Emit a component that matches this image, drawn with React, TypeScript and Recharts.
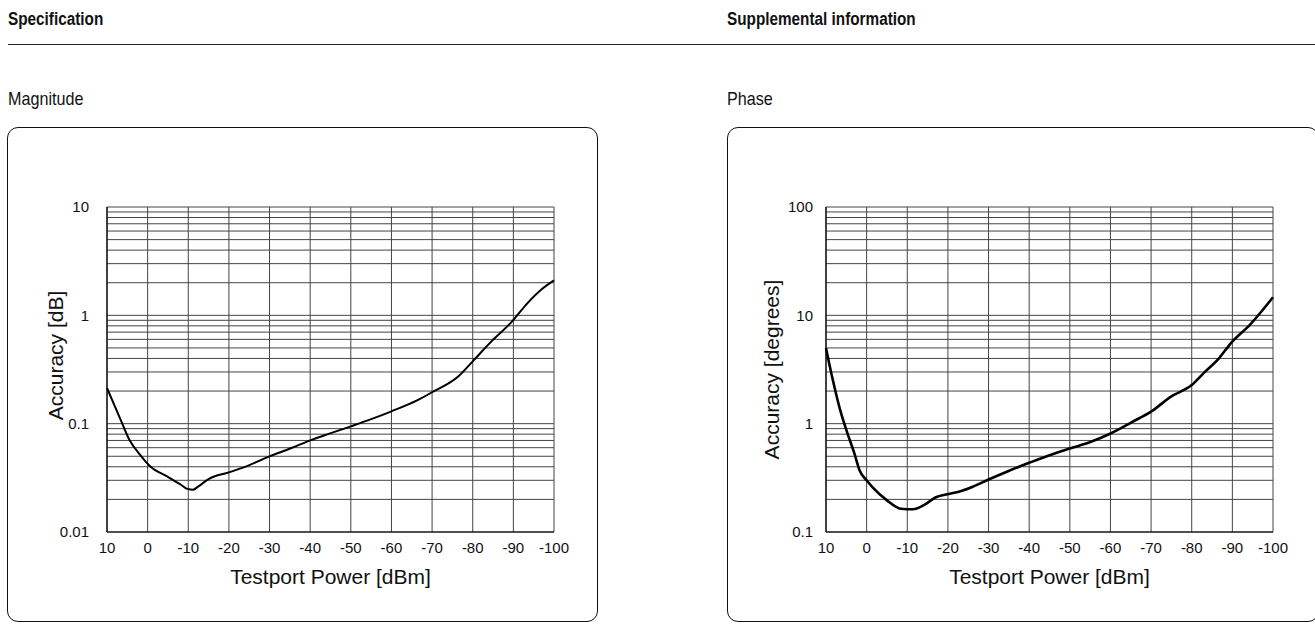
import React from 'react';
import { LineChart, Line, XAxis, YAxis, CartesianGrid } from 'recharts';

// Testport power (dBm) and accuracy readings
const magPower = [10, 7, 4.5, 1.9, -0.6, -4.8, -8.2, -9.9, -11.2, -12.5, -15, -20, -24.3, -30, -35.4, -40, -44.7, -50, -55, -60, -66.3, -70, -76.5, -80, -84.6, -89.7, -93.1, -96.9, -100];
const magAccuracy = [0.213, 0.117, 0.071, 0.0517, 0.0404, 0.0326, 0.0273, 0.0249, 0.0246, 0.0264, 0.0308, 0.0355, 0.0404, 0.0499, 0.0596, 0.0702, 0.0809, 0.0945, 0.11, 0.13, 0.164, 0.195, 0.274, 0.376, 0.575, 0.88, 1.25, 1.73, 2.1];

const phasePower = [10, 8.5, 6.4, 4.7, 3, 1.75, 0, -1.6, -5, -8.4, -11.4, -14.4, -16.9, -19.9, -23.3, -26.3, -30, -34.8, -40, -45, -50, -55.2, -60, -65.4, -70, -74.8, -80, -83.3, -86.7, -89.6, -94.3, -100];
const phaseAccuracy = [4.97, 2.71, 1.29, 0.81, 0.53, 0.372, 0.3, 0.255, 0.196, 0.164, 0.162, 0.18, 0.208, 0.223, 0.239, 0.264, 0.305, 0.364, 0.435, 0.512, 0.59, 0.68, 0.812, 1.04, 1.29, 1.77, 2.27, 3.02, 4.01, 5.52, 8.17, 14.7];

const xTicks = [10, 0, -10, -20, -30, -40, -50, -60, -70, -80, -90, -100];

const magYTicks = [0.01, 0.02, 0.03, 0.04, 0.05, 0.06, 0.07, 0.08, 0.09, 0.1, 0.2, 0.3, 0.4, 0.5, 0.6, 0.7, 0.8, 0.9, 1, 2, 3, 4, 5, 6, 7, 8, 9, 10];
const magYLabels = [0.01, 0.1, 1, 10];

const phaseYTicks = [0.1, 0.2, 0.3, 0.4, 0.5, 0.6, 0.7, 0.8, 0.9, 1, 2, 3, 4, 5, 6, 7, 8, 9, 10, 20, 30, 40, 50, 60, 70, 80, 90, 100];
const phaseYLabels = [0.1, 1, 10, 100];

const FONT = '"Liberation Sans", Arial, sans-serif';

type ChartProps = {
  power: number[];
  accuracy: number[];
  yTicks: number[];
  yLabels: number[];
  yTitle: string;
  yTitleShift: number;
  yTitleX: number;
  yTickMargin: number;
  strokeWidth: number;
};

const AccuracyChart = ({ power, accuracy, yTicks, yLabels, yTitle, yTitleShift, yTitleX, yTickMargin, strokeWidth }: ChartProps) => {
  const data = power.map((p, i) => ({ power: p, acc: accuracy[i] }));
  const domain = [yTicks[0], yTicks[yTicks.length - 1]];
  return (
    <LineChart width={591} height={495} data={data} margin={{ top: 80, right: 44, left: 0, bottom: 0 }}>
      <CartesianGrid stroke="#444" strokeWidth={1} />
      <XAxis
        type="number"
        dataKey="power"
        domain={[-100, 10]}
        reversed
        ticks={xTicks}
        interval={0}
        height={90}
        tickLine={false}
        tickSize={0}
        tickMargin={10}
        axisLine={{ stroke: '#000', strokeWidth: 1.2 }}
        tick={{ fontSize: 15, fill: '#111', fontFamily: FONT }}
        label={{
          content: (props: any) => {
            const vb = props.viewBox;
            return (
              <text x={vb.x + vb.width / 2} y={vb.y + 44} textAnchor="middle" dominantBaseline="central" fontSize={21} fontFamily={FONT} fill="#111">
                Testport Power [dBm]
              </text>
            );
          },
        }}
      />
      <YAxis
        type="number"
        scale="log"
        domain={domain}
        allowDataOverflow
        ticks={yTicks}
        interval={0}
        width={100}
        tickLine={false}
        tickSize={0}
        tickMargin={yTickMargin}
        axisLine={{ stroke: '#000', strokeWidth: 1.2 }}
        tick={{ fontSize: 15, fill: '#111', fontFamily: FONT }}
        tickFormatter={(v: number) => (yLabels.includes(v) ? String(v) : '')}
        label={{
          content: (props: any) => {
            const vb = props.viewBox;
            const cx = vb.x + vb.width / 2 + yTitleX;
            const cy = vb.y + vb.height / 2 + yTitleShift;
            return (
              <text x={cx} y={cy} transform={`rotate(-90 ${cx} ${cy})`} textAnchor="middle" dominantBaseline="central" fontSize={21} fontFamily={FONT} fill="#111">
                {yTitle}
              </text>
            );
          },
        }}
      />
      <Line type="monotone" dataKey="acc" stroke="#000" strokeWidth={strokeWidth} dot={false} isAnimationActive={false} />
    </LineChart>
  );
};

const boxStyle = (left: number, width: number): React.CSSProperties => ({
  position: 'absolute',
  left,
  top: 127,
  width,
  height: 495,
  border: '1.4px solid #111',
  borderRadius: 11,
  boxSizing: 'border-box',
});

const headStyle = (left: number, top: number, bold: boolean): React.CSSProperties => ({
  position: 'absolute',
  left,
  top,
  fontFamily: FONT,
  fontWeight: bold ? 'bold' : 'normal',
  fontSize: bold ? 18 : 19,
  lineHeight: '20px',
  color: '#111',
  whiteSpace: 'nowrap',
  transform: 'scaleX(0.85)',
  transformOrigin: 'left center',
});

export default function App() {
  return (
    <div style={{ position: 'absolute', left: 0, top: 0, width: 1315, height: 625, background: '#fff', overflow: 'hidden' }}>
      <div style={headStyle(8, 9, true)}>Specification</div>
      <div style={headStyle(727, 9, true)}>Supplemental information</div>
      <div style={{ position: 'absolute', left: 8, top: 44, width: 1307, height: 0, borderTop: '1.6px solid #222' }} />
      <div style={headStyle(8, 89, false)}>Magnitude</div>
      <div style={headStyle(727, 89, false)}>Phase</div>

      <div style={boxStyle(7, 591)} />
      <div style={{ position: 'absolute', left: 7, top: 127 }}>
        <AccuracyChart
          power={magPower}
          accuracy={magAccuracy}
          yTicks={magYTicks}
          yLabels={magYLabels}
          yTitle="Accuracy [dB]"
          yTitleShift={-14}
          yTitleX={-2}
          yTickMargin={18}
          strokeWidth={2}
        />
      </div>

      <div style={boxStyle(727, 592)} />
      <div style={{ position: 'absolute', left: 726, top: 127 }}>
        <AccuracyChart
          power={phasePower}
          accuracy={phaseAccuracy}
          yTicks={phaseYTicks}
          yLabels={phaseYLabels}
          yTitle="Accuracy [degrees]"
          yTitleShift={0}
          yTitleX={-5}
          yTickMargin={13}
          strokeWidth={2.6}
        />
      </div>
    </div>
  );
}
